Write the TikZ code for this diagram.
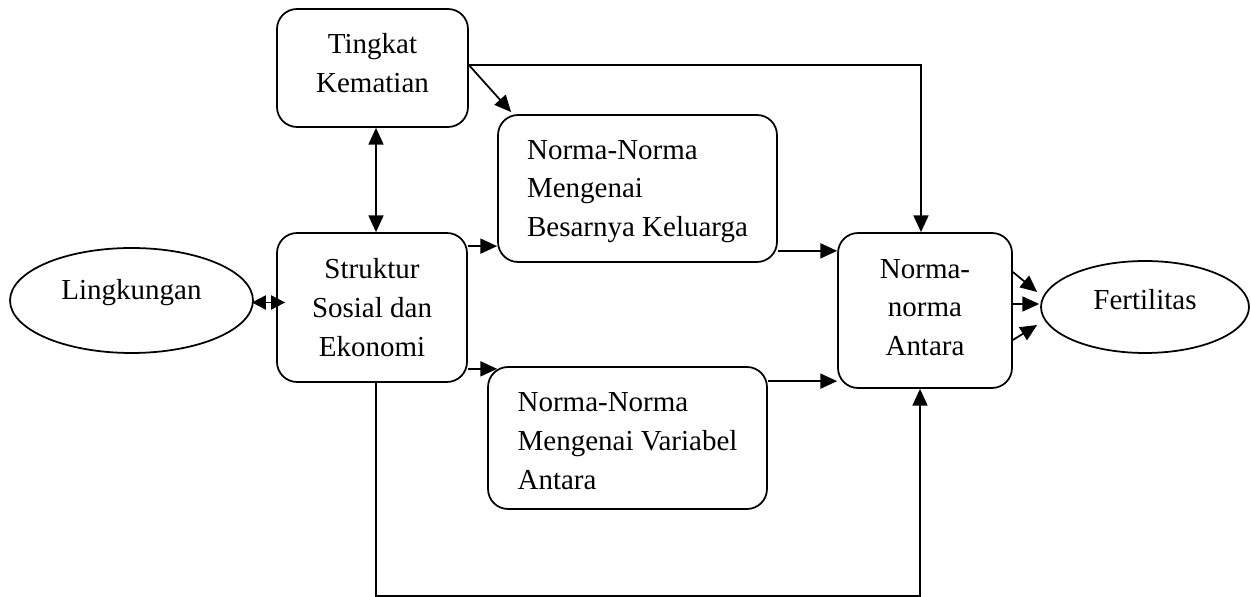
\documentclass[tikz,border=0pt]{standalone}
\usepackage{fontspec}
\setmainfont{Liberation Serif}
\usetikzlibrary{arrows.meta,shapes.geometric,calc}
\begin{document}
\begin{tikzpicture}[x=0.02cm,y=-0.02cm,
  every node/.style={font=\fontsize{16.5pt}{22pt}\selectfont},
  box/.style={draw, line width=1pt, rounded corners=0.4cm, inner sep=0pt},
  oval/.style={draw, ellipse, line width=1pt, inner sep=0pt},
  txt/.style={inner sep=0pt, align=center},
  ltxt/.style={inner sep=0pt, align=left},
  conn/.style={line width=1pt, -{Triangle[length=9.5pt,width=8.5pt]}},
  dconn/.style={line width=1pt, {Triangle[length=9.5pt,width=8.5pt]}-{Triangle[length=9.5pt,width=8.5pt]}},
  sdconn/.style={line width=1pt, {Triangle[length=8pt,width=8pt]}-{Triangle[length=8pt,width=8pt]}}]
\useasboundingbox (0,0) rectangle (1251,597);

% boxes
\node[box, minimum width=3.82cm, minimum height=2.36cm] (tk) at (372.5,68) {};
\node[box, minimum width=3.8cm, minimum height=2.98cm] (sk) at (372,307.5) {};
\node[box, minimum width=5.58cm, minimum height=2.94cm] (nb) at (637.5,188.5) {};
\node[box, minimum width=5.58cm, minimum height=2.84cm] (nv) at (627.5,438) {};
\node[box, minimum width=3.48cm, minimum height=3.1cm] (na) at (925,310.5) {};
\node[oval, minimum width=4.86cm, minimum height=2.1cm] (ling) at (131.5,300.5) {};
\node[oval, minimum width=4.16cm, minimum height=1.84cm] (fe) at (1145,307) {};

% texts
\node[txt] (tkt) at ($(tk.center)+(0,-5)$) {Tingkat\\Kematian};
\node[txt] (skt) at ($(sk.center)+(0,0)$) {Struktur\\Sosial dan\\Ekonomi};
\node[ltxt] (nbt) at ($(nb.center)+(0,3)$) {Norma-Norma\\Mengenai\\Besarnya Keluarga};
\node[ltxt] (nvt) at ($(nv.center)+(0,3)$) {Norma-Norma\\Mengenai Variabel\\Antara};
\node[txt] (nat) at ($(na.center)+(0,-3)$) {Norma-\\norma\\Antara};
\node[txt] (lingt) at ($(ling.center)+(0,-8)$) {Lingkungan};
\node[txt] (fet) at ($(fe.center)+(0,-7)$) {Fertilitas};

% connectors
\coordinate (tkA) at ($(tk.east)+(0,-3)$);
\draw[dconn] ($(tk.south)+(3.5,0)$) -- ($(sk.north)+(4,0)$);
\draw[conn] (tkA) -- ($(nb.north west)+(14,-2)$);
\draw[conn] (tkA) -| ($(na.north)+(-4,0)$);

\coordinate (a1) at ($(sk.north east)+(0,14)$);
\draw[conn] (a1) -- (a1 -| nb.west);
\coordinate (a2) at ($(sk.south east)+(0,-14)$);
\draw[conn] (a2) -- ($(a2 -| nv.west)+(10,0)$);

\coordinate (a3) at ($(nb.south east)+(0,-12)$);
\draw[conn] (a3) -- (a3 -| na.west);
\coordinate (a4) at ($(nv.north east)+(0,15)$);
\draw[conn] (a4) -- (a4 -| na.west);

\draw[conn] ($(sk.south)+(4,0)$) -- ++(0,213) -| ($(na.south)+(-5,0)$);

\draw[sdconn] ($(ling.east)+(-2,2)$) -- ($(ling.east -| sk.west)+(9,2)$);

\draw[conn] ($(na.east)+(0,-38.5)$) -- ($(fe.west)+(-3,-15)$);
\draw[conn] ($(na.east)+(0,-6.5)$) -- ($(fe.west)+(-1,-3)$);
\draw[conn] ($(na.east)+(0,29.5)$) -- ($(fe.west)+(-3,18)$);
\end{tikzpicture}
\end{document}
